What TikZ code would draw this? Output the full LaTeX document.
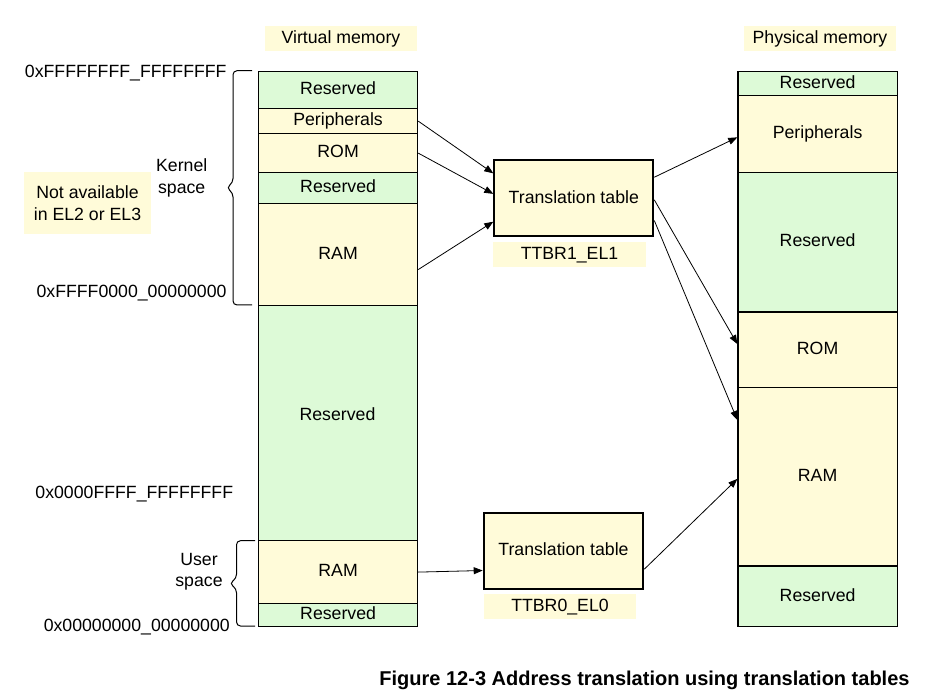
\documentclass[tikz,border=0pt]{standalone}
\usepackage{fontspec}
\setmainfont{Liberation Sans}
\usetikzlibrary{arrows.meta,calc}
\definecolor{memyel}{HTML}{FFFBD9}
\definecolor{memgrn}{HTML}{DDFAD7}
\begin{document}
\begin{tikzpicture}[x=1pt,y=-1pt,
  every node/.style={font=\fontsize{17.7}{21.5}\selectfont},
  sec/.style={draw=black, line width=1.2pt, rectangle, inner sep=0pt,
    minimum width=159pt, text height=12.6pt, text depth=3pt, anchor=north west},
  vsec/.style={sec},
  psec/.style={sec, minimum width=159.4pt},
  ttbox/.style={draw=black, line width=2pt, fill=memyel, rectangle, inner sep=0pt,
    minimum width=159pt, minimum height=76pt, anchor=north west,
    text height=12.6pt, text depth=3pt},
  lab/.style={fill=memyel, rectangle, inner sep=0pt, text height=12.6pt, text depth=3pt},
  addr/.style={anchor=east, inner sep=0pt, text height=12.6pt, text depth=0pt},
  arr/.style={line width=0.8pt, -{Triangle[length=9pt,width=7pt]}},
  brace/.style={line width=1pt, rounded corners=4pt}
]
\fill[white] (0,0) rectangle (943,700);
\useasboundingbox (0,0) rectangle (943,700);

% column headers
\node[lab, minimum width=152pt, minimum height=25pt] (vmlab) at (341,38.5) {Virtual memory};
\node[lab, minimum width=152pt, minimum height=25.3pt] (pmlab) at (820,38.3) {Physical memory};

% virtual memory column
\node[vsec, fill=memgrn, minimum height=37.3pt] (vres1) at (258,70.7) {Reserved};
\node[vsec, fill=memyel, minimum height=25pt] (vper) at (258,108) {Peripherals};
\node[vsec, fill=memyel, minimum height=39pt] (vrom) at (258,133) {ROM};
\node[vsec, fill=memgrn, minimum height=31pt] (vres2) at (258,172) {Reserved};
\node[vsec, fill=memyel, minimum height=102pt] (vram1) at (258,203) {RAM};
\node[vsec, fill=memgrn, minimum height=235pt] (vres3) at (258,305) {};
\node[text height=12.6pt, text depth=0pt, inner sep=0pt] (vres3t) at (337.5,414) {Reserved};
\node[vsec, fill=memyel, minimum height=63pt] (vram2) at (258,540) {RAM};
\node[vsec, fill=memgrn, minimum height=23pt] (vres4) at (258,603) {Reserved};

% physical memory column
\node[psec, fill=memgrn, minimum height=24.3pt] (pres1) at (737.3,70.7) {Reserved};
\node[psec, fill=memyel, minimum height=76.7pt] (pper) at (737.3,95) {Peripherals};
\node[psec, fill=memgrn, minimum height=139.8pt] (pres2) at (737.3,171.7) {Reserved};
\node[psec, fill=memyel, minimum height=75.8pt] (prom) at (737.3,311.5) {ROM};
\node[psec, fill=memyel, minimum height=178pt] (pram) at (737.3,387.3) {RAM};
\node[psec, fill=memgrn, minimum height=60.7pt] (pres3) at (737.3,565.3) {Reserved};

% translation tables
\node[ttbox] (tt1) at (493.3,159.3) {Translation table};
\node[lab, minimum width=153pt, minimum height=24.7pt] (ttbr1) at (569.5,254.3) {TTBR1\_EL1};
\node[ttbox, minimum width=159.6pt] (tt0) at (482.7,511.7) {Translation table};
\node[lab, minimum width=152pt, minimum height=25pt] (ttbr0) at (560,606.8) {TTBR0\_EL0};

% addresses
\node[addr] (a1) at (226.7,71.7) {0xFFFFFFFF\_FFFFFFFF};
\node[addr] (a2) at (226.7,290.8) {0xFFFF0000\_00000000};
\node[addr] (a3) at (233.3,492.2) {0x0000FFFF\_FFFFFFFF};
\node[addr] (a4) at (230,625.5) {0x00000000\_00000000};

% side labels
\node[align=center, inner sep=0pt] (kern) at (181.7,177.7) {Kernel\\space};
\node[align=center, inner sep=0pt] (user) at (199,571.6) {User\\space};
\node[fill=memyel, rectangle, inner sep=0pt, align=center, minimum width=127pt, minimum height=62pt] (nael) at (87.5,203.3) {Not available\\in EL2 or EL3};

% braces
\draw[brace] (252,70.7) -- (233,70.7) -- (233,182.5) -- (226.5,187.7) -- (233,193) -- (233,305) -- (252,305);
\draw[brace] (255,540.7) -- (236.5,540.7) -- (236.5,578.3) -- (229.5,583.5) -- (236.5,588.7) -- (236.5,626) -- (255,626);

% arrows into TTBR1 table
\draw[arr] (vper.east) -- ($(tt1.north west)!0.18!(tt1.south west)$);
\draw[arr] (vrom.east) -- ($(tt1.north west)!0.443!(tt1.south west)$);
\draw[arr] ([yshift=-15pt]vram1.east) -- ($(tt1.north west)!0.8!(tt1.south west)$);
% arrows out of TTBR1 table
\draw[arr] ($(tt1.north east)!0.23!(tt1.south east)$) -- ([yshift=-3.4pt]pper.west);
\draw[arr] ($(tt1.north east)!0.52!(tt1.south east)$) -- ([yshift=6pt]prom.west);
\draw[arr] ($(tt1.north east)!0.785!(tt1.south east)$) -- ([yshift=57pt]pram.west);
% TTBR0 table
\draw[arr] (vram2.east) -- ($(tt0.north west)!0.754!(tt0.south west)$);
\draw[arr] ($(tt0.north east)!0.737!(tt0.south east)$) -- ([yshift=-2pt]pram.west);

% caption
\node[font=\fontsize{20}{24}\selectfont\bfseries, anchor=base, inner sep=0pt] (cap) at (644.5,685) {Figure 12-3 Address translation using translation tables};
\end{tikzpicture}
\end{document}
